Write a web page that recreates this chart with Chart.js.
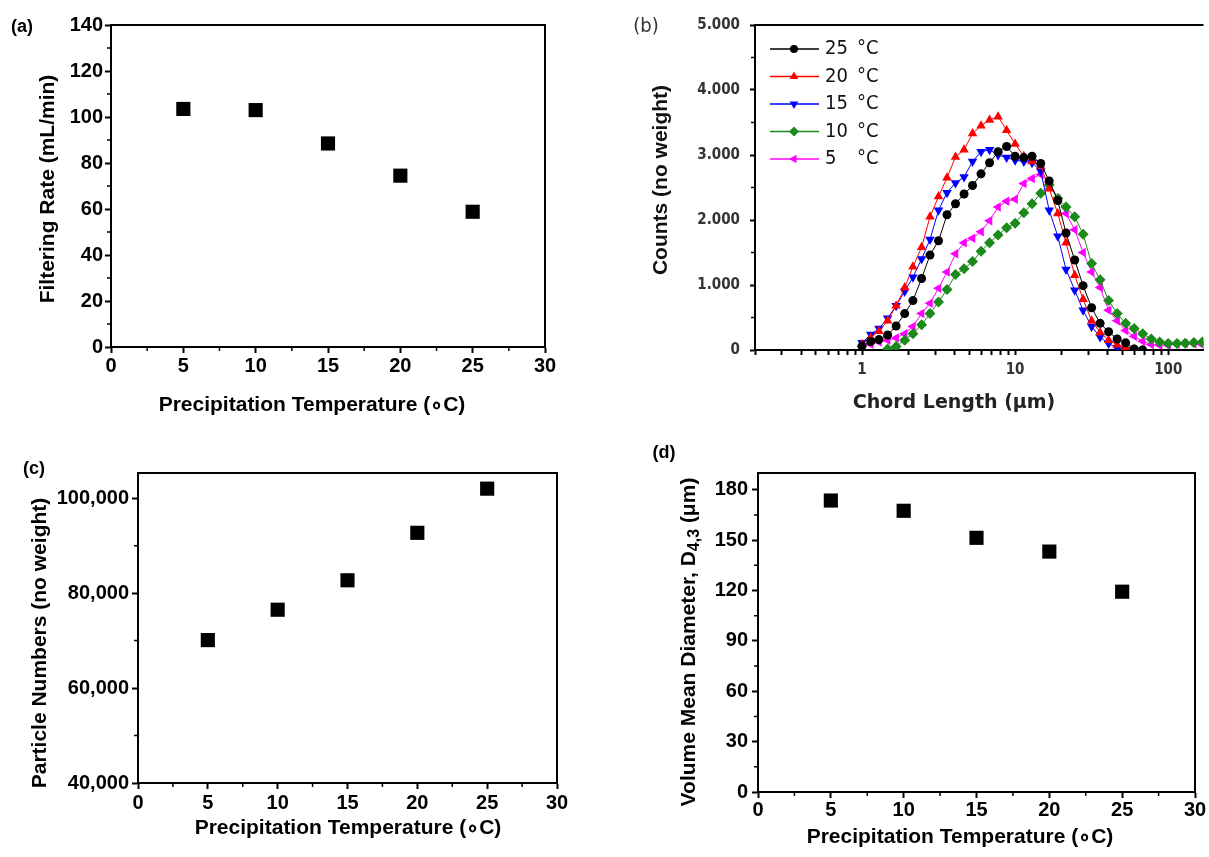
<!DOCTYPE html>
<html>
<head>
<meta charset="utf-8">
<script src="https://cdn.jsdelivr.net/npm/chart.js@4.4.0/dist/chart.umd.min.js"></script>
<style>
  body { margin: 0; background: #fff; width: 1209px; height: 857px; overflow: hidden; position: relative; }
  .panel { position: absolute; }
</style>
</head>
<body>
<div class="panel" style="left:0;top:0;width:580px;height:430px"><canvas id="chartA"></canvas></div>
<div class="panel" style="left:620px;top:0;width:589px;height:430px"><canvas id="chartB"></canvas></div>
<div class="panel" style="left:0;top:440px;width:600px;height:417px"><canvas id="chartC"></canvas></div>
<div class="panel" style="left:620px;top:440px;width:589px;height:417px"><canvas id="chartD"></canvas></div>
<script>
// panels (a), (c), (d): one value per precipitation temperature
const temperatures = [5, 10, 15, 20, 25];
const filteringRate = [103.5, 103, 88.5, 74.5, 58.8];
const particleNumbers = [70100, 76500, 82700, 92700, 102000];
const volumeMeanDiameter = [173.6, 167.5, 151.4, 143.2, 119.3];

// panel (b): chord length distributions
const chordLength = [1.00, 1.14, 1.29, 1.47, 1.67, 1.90, 2.15, 2.45, 2.78, 3.16, 3.59, 4.08, 4.64, 5.27, 5.99, 6.81, 7.74, 8.80,
  10.0, 11.4, 12.9, 14.7, 16.7, 19.0, 21.5, 24.5, 27.8, 31.6, 35.9, 40.8, 46.4, 52.7, 59.9, 68.1, 77.4, 88.0,
  100, 114, 129, 147, 167];
const counts25 = [60, 130, 160, 230, 370, 560, 760, 1100, 1460, 1680, 2080, 2250, 2400, 2530, 2710, 2880, 3050, 3130,
  2980, 2960, 2980, 2870, 2600, 2300, 1800, 1385, 990, 650, 410, 280, 170, 110, 15, 0, null, null,
  null, null, null, null, null];
const counts20 = [90, 190, 290, 450, 680, 960, 1280, 1580, 2050, 2360, 2650, 2970, 3080, 3330, 3450, 3540, 3590, 3380,
  3170, 2980, 2900, 2830, 2480, 2100, 1650, 1150, 780, 450, 270, 150, 80, 40, 10, 0, null, null,
  null, null, null, null, null];
const counts15 = [110, 240, 330, 490, 680, 900, 1120, 1400, 1700, 2150, 2420, 2570, 2660, 2900, 3050, 3080, 3000, 2960,
  2920, 2900, 2880, 2750, 2150, 1750, 1240, 920, 610, 360, 200, 100, 30, 8, 0, null, null, null,
  null, null, null, null, null];
const counts10 = [null, null, null, 15, 55, 150, 250, 390, 560, 740, 930, 1160, 1250, 1360, 1520, 1650, 1770, 1880,
  1950, 2110, 2250, 2410, 2540, 2330, 2200, 2050, 1780, 1330, 1080, 760, 560, 410, 330, 250, 170, 125,
  100, 100, 105, 115, 125];
const counts5 = [50, 90, 125, 150, 185, 250, 360, 560, 720, 950, 1200, 1480, 1650, 1720, 1820, 1990, 2200, 2290,
  2320, 2560, 2640, 2700, 2580, 2330, 2100, 1850, 1500, 1200, 960, 610, 450, 300, 210, 135, 85, 75,
  75, 90, 100, 95, 80];
const seriesLabels = ['25', '20', '15', '10', '5'];

// tick values / labels
const tempTicks = [0, 5, 10, 15, 20, 25, 30];
const filteringTicks = [0, 20, 40, 60, 80, 100, 120, 140];
const particleTicks = [40000, 60000, 80000, 100000];
const diameterTicks = [0, 30, 60, 90, 120, 150, 180];
const countTicks = [0, 1000, 2000, 3000, 4000, 5000];
const chordTickValues = [0.2, 0.3, 0.4, 0.5, 0.6, 0.7, 0.8, 0.9, 1, 2, 3, 4, 5, 6, 7, 8, 9,
  10, 20, 30, 40, 50, 60, 70, 80, 90, 100];
const chordTickLabels = [1, 10, 100];

const ARIAL = '"Liberation Sans", Arial, sans-serif';
const CONDENSED = '"DejaVu Sans Condensed", "Liberation Sans Narrow", sans-serif';
const TITLE_FONT = 'bold 21px ' + ARIAL;
const TICK_FONT = { family: ARIAL, size: 20, weight: 'bold' };

function drawText(ctx, parts, x, y, rotate) {
  const widths = parts.map(p => { ctx.font = p.font; return ctx.measureText(p.text).width; });
  const total = widths.reduce((s, w) => s + w, 0);
  ctx.save();
  ctx.translate(x, y);
  if (rotate) ctx.rotate(-Math.PI / 2);
  ctx.textBaseline = 'middle';
  ctx.textAlign = 'left';
  let cx = -total / 2;
  parts.forEach((p, i) => {
    ctx.font = p.font;
    ctx.fillStyle = p.color || '#000';
    ctx.fillText(p.text, cx, p.shift || 0);
    cx += widths[i];
  });
  ctx.restore();
}

// box, minor ticks, axis titles and panel letters (plain closure, not chart options)
function makeFrame(cfg) {
  return {
    id: 'frame',
    afterDraw(chart) {
      const { ctx, chartArea: a, scales } = chart;
      ctx.save();
      ctx.strokeStyle = '#000';
      ctx.lineWidth = 2;
      ctx.beginPath();
      ctx.moveTo(a.left - 1, a.top);
      ctx.lineTo(a.right, a.top);
      if (cfg.right !== false) ctx.lineTo(a.right, a.bottom + 1);
      ctx.stroke();

      ctx.lineWidth = 1.5;
      ctx.beginPath();
      if (cfg.minorX) {
        const t = scales.x.ticks;
        for (let i = 0; i < t.length - 1; i++) {
          const px = scales.x.getPixelForValue((t[i].value + t[i + 1].value) / 2);
          ctx.moveTo(px, a.bottom);
          ctx.lineTo(px, a.bottom + 4);
        }
      }
      if (cfg.minorY) {
        const t = scales.y.ticks;
        for (let i = 0; i < t.length - 1; i++) {
          const py = scales.y.getPixelForValue((t[i].value + t[i + 1].value) / 2);
          ctx.moveTo(a.left, py);
          ctx.lineTo(a.left - 4, py);
        }
      }
      ctx.stroke();
      ctx.restore();

      (cfg.texts || []).forEach(t => drawText(ctx, t.parts, t.x, t.y, t.rotate));
      if (cfg.legend) cfg.legend(chart);
    }
  };
}

function axis(o) {
  return {
    type: o.type || 'linear',
    min: o.min,
    max: o.max,
    border: { display: true, color: '#000', width: 2 },
    grid: { display: true, drawOnChartArea: false, drawTicks: true, tickLength: o.tickLength || 6, tickWidth: 2, tickColor: '#000' },
    ticks: {
      autoSkip: false, maxRotation: 0,
      padding: o.pad, color: o.color || '#000', font: o.font || TICK_FONT, callback: o.fmt
    },
    afterBuildTicks(scale) { scale.ticks = o.tickValues.map(v => ({ value: v })); },
    afterFit(scale) {
      if (scale.isHorizontal()) scale.height = o.size; else scale.width = o.size;
    }
  };
}

function scatterSet(ys) {
  return {
    data: temperatures.map((t, i) => ({ x: t, y: ys[i] })),
    pointStyle: 'rect', pointRadius: 10, pointHoverRadius: 10,
    backgroundColor: '#000', borderColor: '#000', borderWidth: 0
  };
}

const baseOptions = { animation: false, responsive: true, maintainAspectRatio: false, events: [] };
const noLegend = { legend: { display: false }, tooltip: { enabled: false } };
const plainFmt = v => String(v);

// (a) filtering rate
new Chart(document.getElementById('chartA'), {
  type: 'scatter',
  data: { datasets: [scatterSet(filteringRate)] },
  options: {
    ...baseOptions,
    layout: { padding: { top: 25, right: 35, left: 0, bottom: 0 } },
    plugins: noLegend,
    scales: {
      x: axis({ min: 0, max: 30, tickValues: tempTicks, size: 83, pad: 1, fmt: plainFmt }),
      y: axis({ min: 0, max: 140, tickValues: filteringTicks, size: 111, pad: 2, fmt: plainFmt })
    }
  },
  plugins: [makeFrame({
    minorX: true, minorY: true,
    texts: [
      { parts: [{ text: 'Filtering Rate (mL/min)', font: TITLE_FONT }], x: 48, y: 189, rotate: true },
      { parts: [{ text: 'Precipitation Temperature (\u2218C)', font: TITLE_FONT }], x: 312, y: 405 },
      { parts: [{ text: '(a)', font: 'bold 18px ' + ARIAL }], x: 22, y: 27 }
    ]
  })]
});

// (b) chord length distribution
const bColors = ['#000000', '#ff0000', '#0000ff', '#1a8a1a', '#ff00ff'];
const bStyles = [
  { pointStyle: 'circle', rotation: 0, radius: 4.5 },
  { pointStyle: 'triangle', rotation: 0, radius: 5.5 },
  { pointStyle: 'triangle', rotation: 180, radius: 5.5 },
  { pointStyle: 'rectRot', rotation: 0, radius: 5.5 },
  { pointStyle: 'triangle', rotation: 270, radius: 5.5 }
];
const bCounts = [counts25, counts20, counts15, counts10, counts5];
const bDatasets = bCounts.map((ys, k) => ({
  label: seriesLabels[k],
  data: chordLength.map((x, i) => ({ x: x, y: ys[i] })).filter(p => p.y !== null),
  showLine: true,
  borderColor: bColors[k], backgroundColor: bColors[k], borderWidth: 1,
  pointStyle: bStyles[k].pointStyle, pointRotation: bStyles[k].rotation,
  pointRadius: bStyles[k].radius, pointBorderWidth: 0
}));

function drawBLegend(chart) {
  const ctx = chart.ctx;
  ctx.save();
  bDatasets.forEach((ds, i) => {
    const y = 49 + i * 27.5;
    ctx.strokeStyle = ds.borderColor;
    ctx.fillStyle = ds.backgroundColor;
    ctx.lineWidth = 1.5;
    ctx.beginPath();
    ctx.moveTo(150, y);
    ctx.lineTo(199, y);
    ctx.stroke();
    Chart.helpers.drawPoint(ctx, { pointStyle: ds.pointStyle, rotation: ds.pointRotation, radius: ds.pointRadius - 0.5, borderWidth: 0 }, 174, y);
    ctx.fillStyle = '#111';
    ctx.font = '20px ' + CONDENSED;
    ctx.textBaseline = 'middle';
    ctx.textAlign = 'left';
    ctx.fillText(ds.label, 205, y);
    ctx.fillText('\u00b0C', 237, y);
  });
  ctx.restore();
}

new Chart(document.getElementById('chartB'), {
  type: 'scatter',
  data: { datasets: bDatasets },
  options: {
    ...baseOptions,
    layout: { padding: { top: 25, right: 0, left: 0, bottom: 0 } },
    plugins: noLegend,
    scales: {
      x: axis({
        type: 'logarithmic', min: 0.2, max: 170, tickValues: chordTickValues, size: 80, pad: 6, tickLength: 5, color: '#333',
        font: { family: CONDENSED, size: 15, weight: 'bold' },
        fmt: v => (chordTickLabels.includes(v) ? String(v) : '')
      }),
      y: axis({
        min: 0, max: 5000, tickValues: countTicks, size: 135, pad: 10, tickLength: 5, color: '#333',
        font: { family: CONDENSED, size: 15, weight: 'bold' },
        fmt: v => (v === 0 ? '0' : (v / 1000).toFixed(3))
      })
    }
  },
  plugins: [makeFrame({
    right: false, minorY: true, legend: drawBLegend,
    texts: [
      { parts: [{ text: 'Counts (no weight)', font: TITLE_FONT, color: '#111' }], x: 41, y: 180, rotate: true },
      { parts: [{ text: 'Chord Length (\u03bcm)', font: 'bold 19px "DejaVu Sans", sans-serif', color: '#222' }], x: 334, y: 403 },
      { parts: [{ text: '(b)', font: '20px ' + CONDENSED, color: '#333' }], x: 26, y: 27 }
    ]
  })]
});

// (c) particle numbers
new Chart(document.getElementById('chartC'), {
  type: 'scatter',
  data: { datasets: [scatterSet(particleNumbers)] },
  options: {
    ...baseOptions,
    layout: { padding: { top: 33, right: 43, left: 0, bottom: 0 } },
    plugins: noLegend,
    scales: {
      x: axis({ min: 0, max: 30, tickValues: tempTicks, size: 74, pad: 2, fmt: plainFmt }),
      y: axis({ min: 40000, max: 105300, tickValues: particleTicks, size: 138, pad: 3, fmt: v => v.toLocaleString('en-US') })
    }
  },
  plugins: [makeFrame({
    minorX: true, minorY: true,
    texts: [
      { parts: [{ text: 'Particle Numbers (no weight)', font: TITLE_FONT }], x: 40, y: 203, rotate: true },
      { parts: [{ text: 'Precipitation Temperature (\u2218C)', font: TITLE_FONT }], x: 348, y: 388 },
      { parts: [{ text: '(c)', font: 'bold 18px ' + ARIAL }], x: 34, y: 29 }
    ]
  })]
});

// (d) volume mean diameter
new Chart(document.getElementById('chartD'), {
  type: 'scatter',
  data: { datasets: [scatterSet(volumeMeanDiameter)] },
  options: {
    ...baseOptions,
    layout: { padding: { top: 33, right: 14, left: 0, bottom: 0 } },
    plugins: noLegend,
    scales: {
      x: axis({ min: 0, max: 30, tickValues: tempTicks, size: 65, pad: 0, fmt: plainFmt }),
      y: axis({ min: 0, max: 190, tickValues: diameterTicks, size: 138, pad: 4, fmt: plainFmt })
    }
  },
  plugins: [makeFrame({
    minorX: true, minorY: true,
    texts: [
      { parts: [
          { text: 'Volume Mean Diameter, D', font: TITLE_FONT },
          { text: '4,3', font: 'bold 16px ' + ARIAL, shift: 6 },
          { text: ' (\u03bcm)', font: TITLE_FONT }
        ], x: 69, y: 202, rotate: true },
      { parts: [{ text: 'Precipitation Temperature (\u2218C)', font: TITLE_FONT }], x: 340, y: 397 },
      { parts: [{ text: '(d)', font: 'bold 18px ' + ARIAL }], x: 44, y: 13 }
    ]
  })]
});
</script>
</body>
</html>
